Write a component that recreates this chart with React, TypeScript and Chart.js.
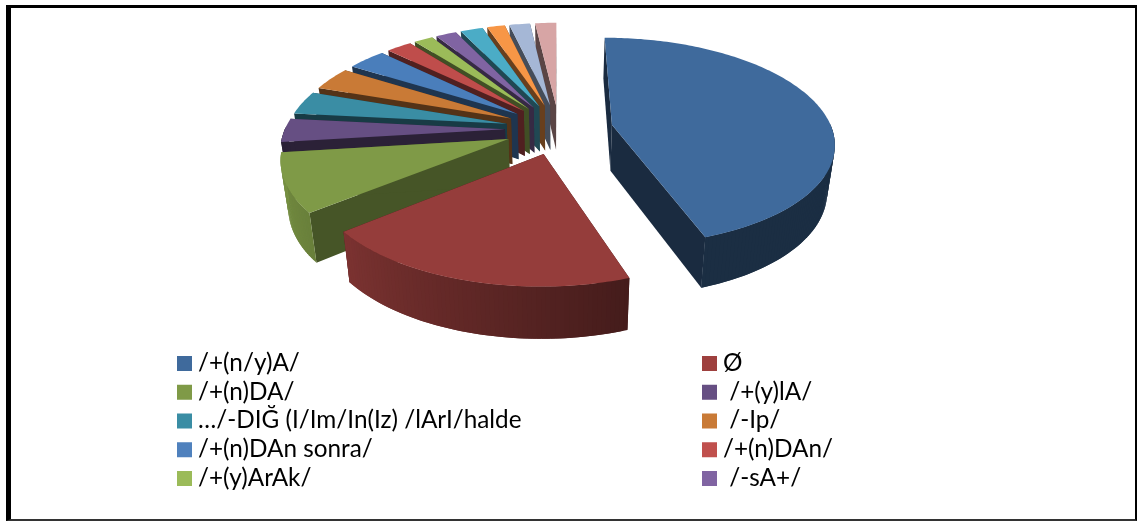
import React, { useEffect, useRef } from "react";
import { Chart, registerables } from "chart.js";

Chart.register(...registerables);

const categories = [
  "/+(n/y)A/", "Ø", "/+(n)DA/", " /+(y)lA/", "…/-DIĞ (I/Im/In(Iz) /lArI/halde", " /-Ip/",
  "/+(n)DAn sonra/", "/+(n)DAn/", "/+(y)ArAk/", " /-sA+/", "", "", "", "",
];
const shares = [44.7, 19.45, 8.9, 3.6, 3.6, 3.6, 3.35, 2.2, 1.65, 1.8, 1.95, 1.55, 1.8, 1.85];
const topColors = [
  "#3f6a9c", "#953d3b", "#7f9a47", "#664f83", "#3a8da4", "#c97a36", "#4a7ebb",
  "#bf4d4b", "#9bbb59", "#8064a2", "#4bacc6", "#f79646", "#a5b7d6", "#d7a5a5",
];
const legendColors = [
  "#3f6a9c", "#9e403e", "#7f9a47", "#664f83", "#3a8da4", "#c97a36", "#4f81bd",
  "#c0504d", "#9bbb59", "#8064a2",
];

const EXPLODE = 54;
const CENTER_Y = 129;
const TILT = 0.465;
const PERSPECTIVE = 0.16;
const FONT = "24.3px Lato";

function hexToRgb(hex: string) {
  return [1, 3, 5].map((i) => parseInt(hex.slice(i, i + 2), 16));
}
function shade(hex: string, f: number) {
  const [r, g, b] = hexToRgb(hex);
  return `rgb(${Math.round(r * f)},${Math.round(g * f)},${Math.round(b * f)})`;
}
function rimShade(deg: number) {
  if (deg <= 161) return 0.43;
  if (deg <= 231) return 0.46 + ((deg - 161) / 70) * 0.37;
  return 0.83 + (Math.min(deg - 231, 40) / 40) * 0.14;
}

const pie3d = {
  id: "pie3d",
  beforeDatasetDraw(chart: any) {
    const { ctx } = chart;
    const arcs = chart.getDatasetMeta(0).data as any[];
    const items = arcs.map((el, i) => {
      const p = el.getProps(["x", "y", "startAngle", "endAngle", "outerRadius"], true);
      return { ...p, color: topColors[i], offset: el.options.offset, mid: (p.startAngle + p.endAngle) / 2, i };
    });
    items.sort((a, b) => Math.sin(a.mid) - Math.sin(b.mid));

    for (const it of items) {
      const R = it.outerRadius;
      const ox = Math.cos(it.mid) * it.offset;
      const oy = Math.sin(it.mid) * it.offset;
      const top = (dx: number, dy: number) => {
        const s = 1 / (1 - (PERSPECTIVE * dy) / R);
        return [it.x + dx * s, CENTER_Y + TILT * dy * s];
      };
      const bottom = (dx: number, dy: number) => {
        const [X, Y] = top(dx, dy);
        return [it.x + (X - it.x) * 0.972, Y + 46 + (5 * dy) / R];
      };
      const rimPt = (a: number, fn: typeof top) => fn(ox + R * Math.cos(a), oy + R * Math.sin(a));
      const poly = (pts: number[][], fill: string) => {
        ctx.beginPath();
        pts.forEach(([x, y], k) => (k ? ctx.lineTo(x, y) : ctx.moveTo(x, y)));
        ctx.closePath();
        ctx.fillStyle = fill;
        ctx.fill();
      };
      const wallF = it.i === 2 ? 0.55 : it.i === 0 ? 0.41 : 0.42;
      const wallColor = shade(it.color, wallF);
      for (const a of [it.startAngle, it.endAngle]) {
        poly([top(ox, oy), rimPt(a, top), rimPt(a, bottom), bottom(ox, oy)], wallColor);
      }
      const step = Math.PI / 180;
      for (let a = it.startAngle; a < it.endAngle; a += step) {
        const b = Math.min(a + step, it.endAngle);
        const next = Math.min(b + step, it.endAngle);
        if (Math.sin((a + b) / 2) < -0.02) continue;
        const deg = (((a + b) / 2 + Math.PI / 2) * 180) / Math.PI;
        const f = it.i <= 2 ? rimShade(deg) : wallF;
        poly([rimPt(a, top), rimPt(next, top), rimPt(next, bottom), rimPt(a, bottom)], shade(it.color, f));
      }
      const face: number[][] = [top(ox, oy)];
      for (let a = it.startAngle; a < it.endAngle; a += step) face.push(rimPt(a, top));
      face.push(rimPt(it.endAngle, top));
      poly(face, it.color);
    }
    return false;
  },
  afterDraw(chart: any) {
    const { ctx } = chart;
    ctx.save();
    ctx.font = FONT;
    ctx.textBaseline = "middle";
    categories.forEach((label, i) => {
      if (!label) return;
      const row = Math.floor(i / 2);
      const col = i % 2;
      const y = 356 + row * 28.75;
      const x = col ? 702 : 177;
      ctx.fillStyle = legendColors[i];
      ctx.fillRect(x, y, 15, 15);
      ctx.fillStyle = "#000";
      ctx.fillText(label, col ? 723 : 198, y + 7);
    });
    ctx.restore();
  },
};

export default function App() {
  const ref = useRef<HTMLCanvasElement>(null);
  useEffect(() => {
    const chart = new Chart(ref.current!, {
      type: "pie",
      data: {
        labels: categories,
        datasets: [{ data: shares, backgroundColor: topColors, offset: EXPLODE, borderWidth: 0 }],
      },
      options: {
        responsive: false,
        animation: false,
        events: [],
        layout: { padding: { left: 0, right: 19, top: 13, bottom: 14 } },
        plugins: { legend: { display: false }, tooltip: { enabled: false } },
      },
      plugins: [pie3d],
    } as any);
    return () => chart.destroy();
  }, []);
  return (
    <div style={{ position: "fixed", left: 0, top: 0, width: 1137, height: 521, background: "#fff" }}>
      <canvas ref={ref} width={1137} height={521} style={{ position: "absolute", left: 0, top: 0 }} />
      <div
        style={{
          position: "absolute", left: 6, top: 5, width: 1131, height: 516, boxSizing: "border-box",
          borderStyle: "solid", borderColor: "#000", borderWidth: "3px 2px 2px 5px",
          borderBottomColor: "#333",
        }}
      />
    </div>
  );
}
